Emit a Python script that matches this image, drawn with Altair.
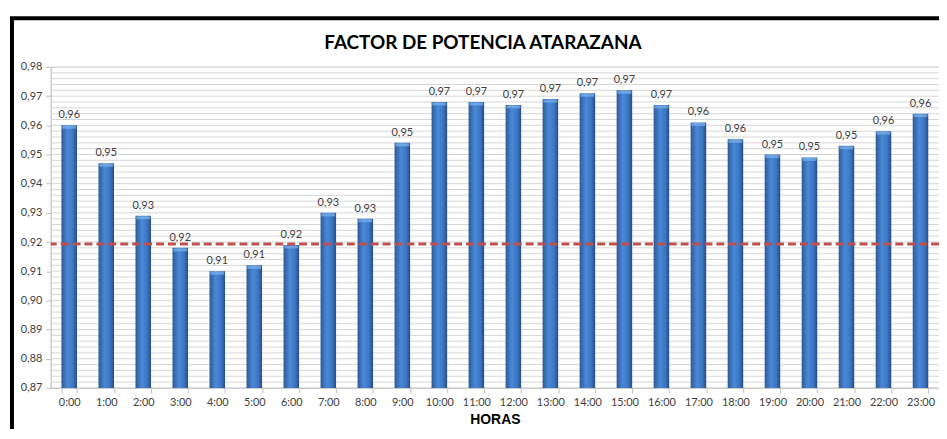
import altair as alt
import pandas as pd

# ---- data ----
horas = ["0:00", "1:00", "2:00", "3:00", "4:00", "5:00", "6:00", "7:00",
         "8:00", "9:00", "10:00", "11:00", "12:00", "13:00", "14:00", "15:00",
         "16:00", "17:00", "18:00", "19:00", "20:00", "21:00", "22:00", "23:00"]
factor = [0.960, 0.947, 0.929, 0.918, 0.910, 0.912, 0.919, 0.930,
          0.928, 0.954, 0.968, 0.968, 0.967, 0.969, 0.971, 0.972,
          0.967, 0.961, 0.9552, 0.950, 0.949, 0.953, 0.958, 0.964]
referencia = [0.9193]
ticks_y = [0.87, 0.88, 0.89, 0.90, 0.91, 0.92, 0.93, 0.94, 0.95, 0.96, 0.97, 0.98]
rejilla = [round(0.870 + 0.002 * i, 3) for i in range(56)]
titulo = ["FACTOR DE POTENCIA ATARAZANA"]
y_min = 0.87

W, H = 894, 323

df = pd.DataFrame({"hora": horas, "fp": factor})
yscale = alt.Scale(domain=[0.87, 0.98], nice=False, zero=False)
xscale = alt.Scale(domain=horas, paddingInner=0.58, paddingOuter=0.29)

x_axis = alt.Axis(title="HORAS", titleFont="Liberation Sans", titleFontSize=14,
                  titleFontWeight="bold", titleColor="black", titlePadding=5,
                  labelFont="Lato", labelFontSize=11, labelColor="#404040",
                  labelAngle=0, labelPadding=4, tickBand="extent", tickSize=5,
                  tickColor="#BFBFBF", domainColor="#BFBFBF", grid=False)
y_axis = alt.Axis(values=ticks_y, title=None, grid=False,
                  labelExpr="replace(format(datum.value, '.2f'), '.', ',')",
                  labelFont="Lato", labelFontSize=11, labelColor="#404040",
                  labelPadding=4, tickSize=5, tickColor="#BFBFBF",
                  domainColor="#BFBFBF")

X = alt.X("hora:N", sort=horas, scale=xscale, axis=x_axis)


def Y(field):
    return alt.Y(field, scale=yscale, axis=y_axis)


frame = alt.Chart(pd.DataFrame({"k": [0]})).mark_rect(
    fillOpacity=0, stroke="black", strokeWidth=4
).encode(x=alt.value(-39), x2=alt.value(W + 60), y=alt.value(-49), y2=alt.value(H + 80))

title = alt.Chart(pd.DataFrame({"t": titulo})).mark_text(
    font="Lato", fontSize=19, fontWeight="bold", color="black",
    align="center", baseline="middle"
).encode(x=alt.value(W / 2 - 12), y=alt.value(-24), text="t:N")

grid = alt.Chart(pd.DataFrame({"g": rejilla})).mark_rule(
    color="#D6D6D6", strokeWidth=1
).encode(y=Y("g:Q"))

grad = alt.Gradient(
    gradient="linear", x1=0, x2=1, y1=0, y2=0,
    stops=[alt.GradientStop(color="#2C5A98", offset=0),
           alt.GradientStop(color="#4A88D6", offset=0.4),
           alt.GradientStop(color="#3C76C2", offset=0.75),
           alt.GradientStop(color="#264C86", offset=1)])

bars = alt.Chart(df).mark_bar(color=grad).encode(x=X, y=Y("fp:Q"), y2=alt.datum(y_min))

caps = alt.Chart(df).mark_tick(color="#7DB4EE", thickness=3, size=14, yOffset=2).encode(
    x=X, y=Y("fp:Q"))

labels = alt.Chart(df).transform_calculate(
    lbl="replace(format(datum.fp, '.2f'), '.', ',')"
).mark_text(baseline="bottom", dy=-5, font="Lato", fontSize=11, color="#404040").encode(
    x=X, y=Y("fp:Q"), text="lbl:N")

redline = alt.Chart(pd.DataFrame({"r": referencia})).mark_rule(
    color="#C0504D", strokeWidth=3, strokeDash=[8, 4]
).encode(y=Y("r:Q"))

chart = alt.layer(frame, title, grid, bars, caps, labels, redline).properties(
    width=W, height=H,
    padding={"left": 43, "top": 58, "right": 0, "bottom": 40},
    autosize=alt.AutoSizeParams(type="none"),
).configure_view(stroke=None).configure(background="white")

chart.save("out.html", embed_options={"renderer": "svg", "actions": False})
